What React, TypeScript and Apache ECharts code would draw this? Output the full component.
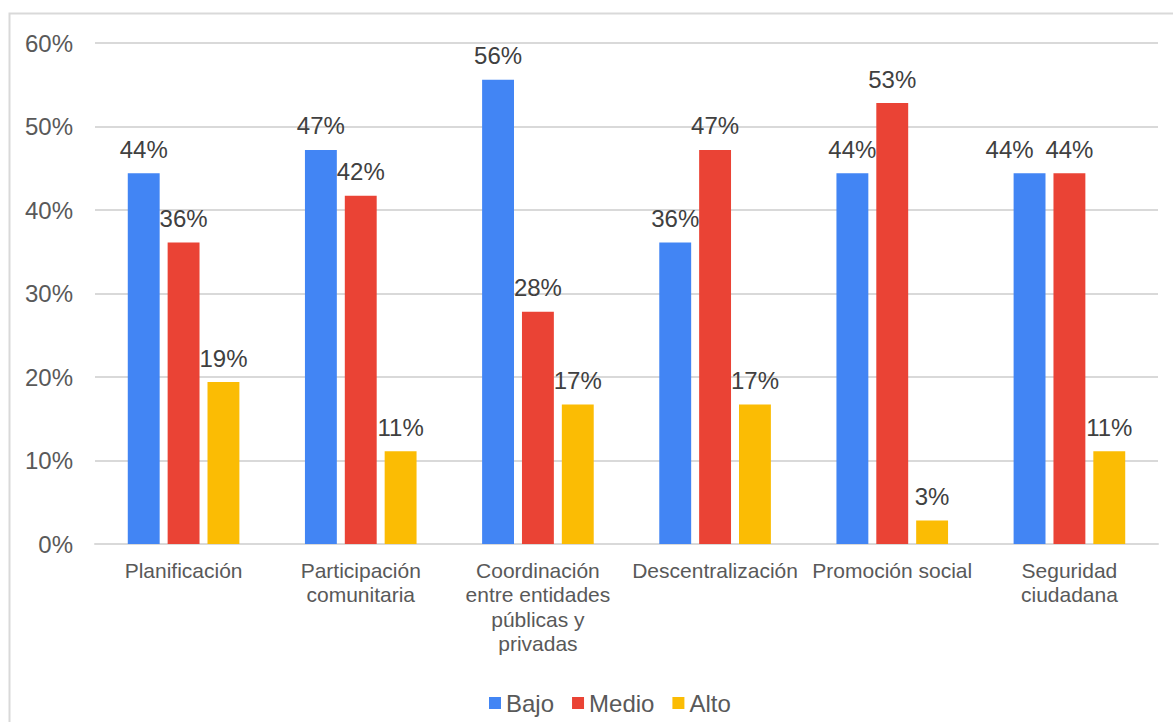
import React, { useEffect, useRef } from "react";
import * as echarts from "echarts";

const categories = [
  "Planificación",
  "Participación\ncomunitaria",
  "Coordinación\nentre entidades\npúblicas y\nprivadas",
  "Descentralización",
  "Promoción social",
  "Seguridad\nciudadana",
];
const seriesNames = ["Bajo", "Medio", "Alto"];
const bajo = [44.4, 47.2, 55.6, 36.1, 44.4, 44.4];
const medio = [36.1, 41.7, 27.8, 47.2, 52.8, 44.4];
const alto = [19.4, 11.1, 16.7, 16.7, 2.8, 11.1];
const colors = ["#4285F4", "#EA4335", "#FBBC04"];
const yTicks = { min: 0, max: 60, interval: 10 };

const FONT = "'Liberation Sans', Arial, sans-serif";

export default function App() {
  const ref = useRef<HTMLDivElement>(null);
  useEffect(() => {
    if (!ref.current) return;
    const chart = echarts.init(ref.current, null, { renderer: "svg" });
    const values = [bajo, medio, alto];
    chart.setOption({
      animation: false,
      backgroundColor: "#ffffff",
      textStyle: { fontFamily: FONT },
      graphic: [
        {
          type: "rect",
          shape: { x: 9.5, y: 13.5, width: 1300, height: 900 },
          style: { fill: "none", stroke: "#d9d9d9", lineWidth: 2 },
          silent: true,
          z: -1,
        },
      ],
      grid: { left: 95, right: 15, top: 43, bottom: 178, containLabel: false },
      legend: {
        top: 686,
        left: 484,
        itemWidth: 12,
        itemHeight: 12,
        itemGap: 18,
        icon: "rect",
        textStyle: { fontSize: 24, color: "#595959", fontFamily: FONT },
        data: seriesNames,
      },
      xAxis: {
        type: "category",
        data: categories,
        axisLine: { lineStyle: { color: "#d9d9d9", width: 2 } },
        axisTick: { show: false },
        axisLabel: {
          fontSize: 21,
          color: "#595959",
          margin: 14,
          lineHeight: 24.5,
          interval: 0,
          fontFamily: FONT,
        },
      },
      yAxis: {
        type: "value",
        min: yTicks.min,
        max: yTicks.max,
        interval: yTicks.interval,
        axisLine: { show: false },
        axisTick: { show: false },
        splitLine: { lineStyle: { color: "#d9d9d9", width: 2 } },
        axisLabel: {
          fontSize: 24,
          color: "#595959",
          margin: 22,
          fontFamily: FONT,
          formatter: (v: number) => `${v}%`,
        },
      },
      series: seriesNames.map((name, i) => ({
        name,
        type: "bar",
        data: values[i].map((v, j) =>
          i === 0 && j === 5 ? { value: v, label: { offset: [-20, 0] } } : v
        ),
        barGap: "25%",
        barCategoryGap: "37%",
        itemStyle: { color: colors[i] },
        label: {
          show: true,
          position: "top",
          distance: 12,
          fontSize: 24,
          color: "#404040",
          fontFamily: FONT,
          formatter: (p: any) => `${Math.round(p.value)}%`,
        },
      })),
    });
    return () => chart.dispose();
  }, []);
  return (
    <div
      ref={ref}
      style={{ position: "absolute", left: 0, top: 0, width: 1173, height: 722 }}
    />
  );
}
